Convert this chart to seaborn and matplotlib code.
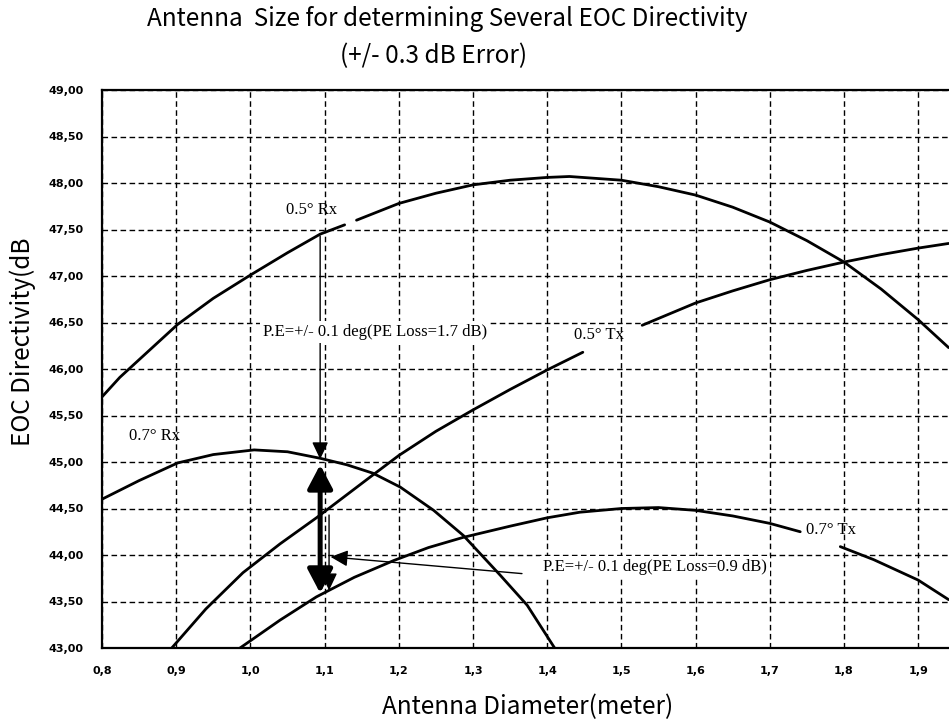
import pandas as pd
import matplotlib
matplotlib.use("Agg")
import matplotlib.pyplot as plt
import seaborn as sns

# ---- readings from the chart: diameter (m) vs EOC directivity (dB) ----
# seg = piece of the curve (curves are broken where a label sits)
rx05_d = [0.80, 0.824, 0.85, 0.902, 0.95, 1.00, 1.05, 1.094, 1.127,
          1.143, 1.20, 1.25, 1.30, 1.35, 1.40, 1.43, 1.50, 1.55, 1.60, 1.65, 1.70, 1.75, 1.80, 1.85, 1.90, 1.941]
rx05_db = [45.70, 45.91, 46.10, 46.48, 46.76, 47.01, 47.25, 47.45, 47.55,
           47.60, 47.78, 47.89, 47.98, 48.03, 48.06, 48.07, 48.03, 47.96, 47.87, 47.74, 47.58, 47.38, 47.15, 46.86, 46.53, 46.23]
rx05_seg = [0] * 9 + [1] * 17

tx05_d = [0.894, 0.94, 0.99, 1.04, 1.089, 1.165, 1.20, 1.25, 1.30, 1.35, 1.40, 1.448,
          1.528, 1.60, 1.65, 1.70, 1.75, 1.80, 1.85, 1.90, 1.941]
tx05_db = [43.00, 43.42, 43.81, 44.12, 44.40, 44.86, 45.07, 45.33, 45.56, 45.78, 45.99, 46.18,
           46.47, 46.71, 46.84, 46.96, 47.06, 47.15, 47.23, 47.30, 47.35]
tx05_seg = [0] * 12 + [1] * 9

rx07_d = [0.80, 0.85, 0.902, 0.95, 1.005, 1.05, 1.094, 1.13, 1.165, 1.202, 1.247, 1.287, 1.337, 1.373, 1.41]
rx07_db = [44.60, 44.80, 44.99, 45.08, 45.13, 45.11, 45.04, 44.97, 44.88, 44.73, 44.48, 44.21, 43.78, 43.46, 43.00]
rx07_seg = [0] * len(rx07_d)

tx07_d = [0.986, 1.04, 1.089, 1.14, 1.193, 1.24, 1.287, 1.35, 1.40, 1.444, 1.50, 1.55, 1.60, 1.65, 1.70, 1.741,
          1.795, 1.84, 1.90, 1.941]
tx07_db = [43.00, 43.30, 43.55, 43.76, 43.94, 44.08, 44.19, 44.31, 44.40, 44.46, 44.50, 44.51, 44.48, 44.42, 44.34, 44.25,
           44.09, 43.95, 43.73, 43.52]
tx07_seg = [0] * 16 + [1] * 4

curve_names = ["0.5° Rx", "0.5° Tx", "0.7° Rx", "0.7° Tx"]
label_x = [1.082, 1.47, 0.871, 1.782]
label_y = [47.71, 46.37, 45.28, 44.27]

x_ticks = [0.8, 0.9, 1.0, 1.1, 1.2, 1.3, 1.4, 1.5, 1.6, 1.7, 1.8, 1.9]
x_ticklabels = ["0,8", "0,9", "1,0", "1,1", "1,2", "1,3", "1,4", "1,5", "1,6", "1,7", "1,8", "1,9"]
y_ticks = [43.0, 43.5, 44.0, 44.5, 45.0, 45.5, 46.0, 46.5, 47.0, 47.5, 48.0, 48.5, 49.0]
y_ticklabels = ["43,00", "43,50", "44,00", "44,50", "45,00", "45,50", "46,00",
                "46,50", "47,00", "47,50", "48,00", "48,50", "49,00"]

# pointing-error annotations
pe_note_1 = "P.E=+/- 0.1 deg(PE Loss=1.7 dB)"
pe_note_2 = "P.E=+/- 0.1 deg(PE Loss=0.9 dB)"
note1_xy = (1.168, 46.40)
note2_xy = (1.545, 43.87)
rx_arrow = [(1.094, 47.43), (1.094, 45.03)]      # 0.5 Rx -> 0.7 Rx
loss_arrow = [(1.094, 44.97), (1.094, 43.59)]    # thick double arrow
tx_arrow = [(1.106, 44.43), (1.106, 43.62)]      # 0.5 Tx -> 0.7 Tx
ptr_arrow = [(1.366, 43.80), (1.108, 43.98)]     # from note 2

frames = []
for name, d, db, seg in [("0.5 Rx", rx05_d, rx05_db, rx05_seg),
                         ("0.5 Tx", tx05_d, tx05_db, tx05_seg),
                         ("0.7 Rx", rx07_d, rx07_db, rx07_seg),
                         ("0.7 Tx", tx07_d, tx07_db, tx07_seg)]:
    frames.append(pd.DataFrame({"d": d, "db": db, "curve": name, "seg": seg}))
df = pd.concat(frames, ignore_index=True)
df["unit"] = df["curve"] + "_" + df["seg"].astype(str)

sns.set_style("white")
plt.rcParams["font.family"] = ["Noto Sans CJK KR", "DejaVu Sans"]
for key in ["text.color", "axes.labelcolor", "xtick.color", "ytick.color"]:
    plt.rcParams[key] = "black"

fig = plt.figure(figsize=(9.49, 7.2), dpi=100)
ax = fig.add_axes([102 / 949, 72 / 720, 847 / 949, 558 / 720])

sns.lineplot(data=df, x="d", y="db", units="unit", estimator=None, sort=False,
             color="black", lw=2.0, ax=ax)

ax.set_xlim(0.8, 1.9415)
ax.set_ylim(43, 49)
ax.set_xticks(x_ticks)
ax.set_xticklabels(x_ticklabels, fontfamily="DejaVu Sans", fontweight="bold", fontsize=8)
ax.set_yticks(y_ticks)
ax.set_yticklabels(y_ticklabels, fontfamily="DejaVu Sans", fontweight="bold", fontsize=8)
ax.tick_params(length=0, pad=13)
ax.grid(True, color="black", linestyle=(0, (4, 2.5)), lw=1.0)
ax.set_axisbelow(True)
for side in ["left", "top", "bottom"]:
    ax.spines[side].set_color("black")
    ax.spines[side].set_linewidth(1.6)
ax.spines["right"].set_visible(False)

ax.set_xlabel("Antenna Diameter(meter)", fontsize=17.5, fontweight="light")
ax.set_ylabel("EOC Directivity(dB", fontsize=17.5, fontweight="light")
ax.xaxis.set_label_coords(0.503, -0.082)
ax.yaxis.set_label_coords(-0.078, 0.548)

fig.text(447 / 949, 0.974, "Antenna  Size for determining Several EOC Directivity",
         ha="center", va="center", fontsize=17.5, fontweight="light")
fig.text(434 / 949, 0.922, "(+/- 0.3 dB Error)", ha="center", va="center",
         fontsize=17.5, fontweight="light")

serif = "Liberation Serif"
for name, lx, ly in zip(curve_names, label_x, label_y):
    ax.text(lx, ly, name, family=serif, fontsize=12, ha="center", va="center")

thin = dict(arrowstyle="-|>,head_length=0.7,head_width=0.33", lw=1.0, color="black",
            shrinkA=0, shrinkB=0, mutation_scale=15)
ax.annotate("", xy=rx_arrow[1], xytext=rx_arrow[0], arrowprops=thin, zorder=4)
ax.annotate("", xy=tx_arrow[1], xytext=tx_arrow[0], arrowprops=thin, zorder=4)
ax.annotate("", xy=ptr_arrow[1], xytext=ptr_arrow[0], arrowprops=thin, zorder=4)
ax.annotate("", xy=loss_arrow[1], xytext=loss_arrow[0], zorder=4,
            arrowprops=dict(arrowstyle="<|-|>,head_length=0.72,head_width=0.38",
                            lw=3.6, color="black", shrinkA=0, shrinkB=0,
                            mutation_scale=20))

box = dict(facecolor="white", edgecolor="none", pad=2)
ax.text(*note1_xy, pe_note_1, family=serif, fontsize=12, ha="center", va="center",
        bbox=box, zorder=6)
ax.text(*note2_xy, pe_note_2, family=serif, fontsize=12, ha="center", va="center",
        bbox=box, zorder=6)

fig.savefig("out.png", dpi=100)
